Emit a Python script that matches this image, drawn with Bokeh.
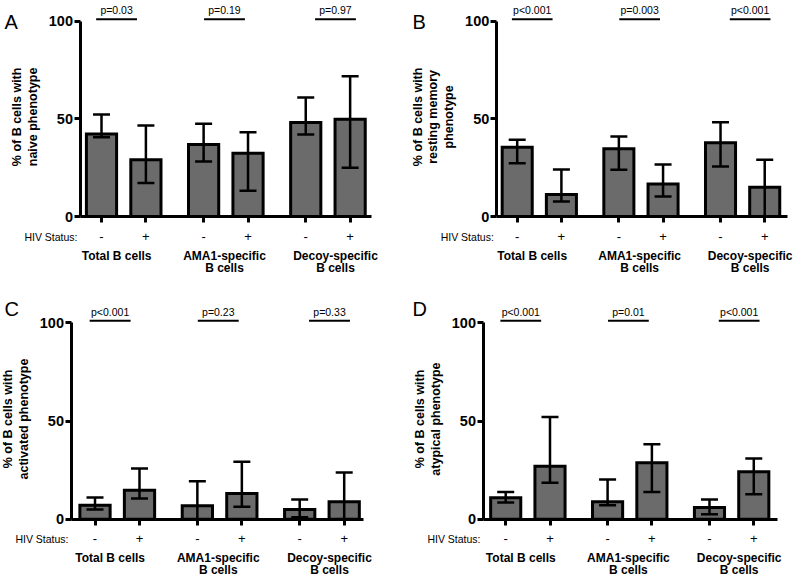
import math
from bokeh.plotting import figure
from bokeh.models import Range1d, FixedTicker, Label
from bokeh.core.properties import value
from bokeh.layouts import column, row
from bokeh.embed import file_html
from bokeh.resources import INLINE

# ---------------- data ----------------
GROUP_LINES = [["Total B cells"], ["AMA1-specific", "B cells"], ["Decoy-specific", "B cells"]]
HIV_STATUS = ["-", "+", "-", "+", "-", "+"]
PANEL_LETTERS = ["A", "B", "C", "D"]
Y_LABELS = [
    ["% of B cells with", "naive phenotype"],
    ["% of B cells with", "resting memory", "phenotype"],
    ["% of B cells with", "activated phenotype"],
    ["% of B cells with", "atypical phenotype"],
]

naive_value = [42.3, 29.0, 36.9, 32.4, 48.1, 49.8]
naive_upper = [52.2, 46.6, 47.5, 43.2, 60.9, 71.8]
naive_lower = [40.6, 17.1, 28.2, 13.2, 42.0, 24.9]
naive_p = ["p=0.03", "p=0.19", "p=0.97"]

resting_value = [35.5, 11.3, 34.7, 16.7, 37.7, 15.0]
resting_upper = [39.3, 24.1, 41.0, 26.6, 48.3, 29.0]
resting_lower = [27.3, 7.7, 23.9, 10.2, 25.6, 0.0]
resting_p = ["p<0.001", "p=0.003", "p<0.001"]

activated_value = [7.1, 14.8, 6.8, 13.1, 4.9, 8.9]
activated_upper = [11.0, 25.8, 19.3, 29.2, 10.0, 23.8]
activated_lower = [5.0, 10.5, 0.0, 6.3, 1.0, 0.0]
activated_p = ["p<0.001", "p=0.23", "p=0.33"]

atypical_value = [10.9, 27.0, 8.9, 28.7, 6.0, 24.1]
atypical_upper = [13.9, 52.1, 20.2, 38.2, 10.0, 30.9]
atypical_lower = [8.5, 18.5, 7.1, 13.9, 2.5, 12.7]
atypical_p = ["p<0.001", "p=0.01", "p<0.001"]

Y_TICKS = [0, 50, 100]

# ---------------- layout / style ----------------
POS = [0, 10, 23, 33, 46, 56]          # bar slots (tenths of a bar step)
GROUP_X = [3.4, 27.7, 52.7]            # centre of group captions / p-value lines
P_HALF = 4.6
BAR_W = 6.8
P_LINE_Y = 101.0
FONT = "Liberation Sans"
BAR_FILL = "#6b6b6b"

# pixel geometry of each panel (figure pixels): y-axis x, x-axis end, y=100 row, y=0 row
LAYOUTS = [
    dict(w=398, h=289, L=79.5, R=370.7, T=20.7, B=216.0, x0=101.0, u=44.4, lx=4, ly=21.5),
    dict(w=397, h=289, L=97.8, R=388.7, T=20.7, B=216.0, x0=118.7, u=44.2, lx=14, ly=21.0),
    dict(w=398, h=288, L=70.5, R=363.3, T=33.3, B=229.7, x0=94.5, u=44.5, lx=4, ly=19.7),
    dict(w=397, h=288, L=84.5, R=378.7, T=33.3, B=229.7, x0=107.2, u=44.3, lx=14, ly=19.7),
]


def make_panel(letter, ylines, vals, upper, lower, pvals, lay):
    L, R, T, Bt = lay["L"], lay["R"], lay["T"], lay["B"]
    w, h, u = lay["w"], lay["h"], lay["u"]

    def xs(px):
        return (px - lay["x0"]) / u * 10.0

    def ys(py):
        return (Bt - py) / (Bt - T) * 100.0

    p = figure(width=w, height=h,
               x_range=Range1d(xs(0), xs(w)), y_range=Range1d(ys(h), ys(0)),
               output_backend="svg", toolbar_location=None, tools="",
               min_border=0, min_border_left=0, min_border_right=0,
               min_border_top=0, min_border_bottom=0)
    p.xgrid.visible = False
    p.ygrid.visible = False
    p.outline_line_color = None
    p.background_fill_color = "white"
    p.border_fill_color = "white"

    # x axis
    xa = p.xaxis[0]
    xa.fixed_location = 0
    xa.bounds = (xs(L), xs(R))
    xa.ticker = FixedTicker(ticks=POS, minor_ticks=[])
    xa.major_label_overrides = {pos: s for pos, s in zip(POS, HIV_STATUS)}
    xa.axis_line_width = 3
    xa.axis_line_color = "black"
    xa.major_tick_line_width = 3
    xa.major_tick_line_color = "black"
    xa.major_tick_in = 0
    xa.major_tick_out = 6
    xa.minor_tick_line_color = None
    xa.major_label_text_font = FONT
    xa.major_label_text_font_size = "13px"
    xa.major_label_text_color = "black"
    xa.major_label_standoff = 9

    # y axis
    ya = p.yaxis[0]
    ya.fixed_location = xs(L)
    ya.ticker = FixedTicker(ticks=Y_TICKS, minor_ticks=[])
    ya.bounds = (0, 100)
    ya.axis_line_width = 3
    ya.axis_line_color = "black"
    ya.major_tick_line_width = 3
    ya.major_tick_line_color = "black"
    ya.major_tick_in = 0
    ya.major_tick_out = 6
    ya.minor_tick_line_color = None
    ya.major_label_text_font = FONT
    ya.major_label_text_font_style = "bold"
    ya.major_label_text_font_size = "14.5px"
    ya.major_label_text_color = "black"
    ya.major_label_standoff = 1

    # bars
    p.vbar(x=POS, top=vals, bottom=0, width=BAR_W, fill_color=BAR_FILL,
           line_color="black", line_width=3, line_join="miter")

    # error bars
    cap = 8.5 / u * 10.0
    p.segment(x0=POS, y0=lower, x1=POS, y1=upper, line_color="black", line_width=2.5)
    p.segment(x0=[x - cap for x in POS], y0=upper, x1=[x + cap for x in POS], y1=upper,
              line_color="black", line_width=2.5)
    p.segment(x0=[x - cap for x in POS], y0=lower, x1=[x + cap for x in POS], y1=lower,
              line_color="black", line_width=2.5)

    # p-value lines and texts
    p.segment(x0=[g - P_HALF for g in GROUP_X], y0=[P_LINE_Y] * 3,
              x1=[g + P_HALF for g in GROUP_X], y1=[P_LINE_Y] * 3,
              line_color="black", line_width=2)
    line_px = Bt - P_LINE_Y / 100.0 * (Bt - T)
    for g, txt in zip(GROUP_X, pvals):
        p.add_layout(Label(x=g, y=ys(line_px - 9), text=txt, text_font=FONT,
                           text_font_size="10.5px", text_align="center",
                           text_baseline="alphabetic", text_color="black"))

    # HIV status caption
    p.add_layout(Label(x=xs(L - 2.5), y=ys(Bt + 20), text="HIV Status:", text_font=FONT,
                       text_font_size="10.5px", text_align="right",
                       text_baseline="middle", text_color="black"))

    # group captions
    for g, lines in zip(GROUP_X, GROUP_LINES):
        for i, ln in enumerate(lines):
            p.add_layout(Label(x=g, y=ys(Bt + 39 + 12 * i), text=ln, text_font=FONT,
                               text_font_size="12px", text_font_style="bold",
                               text_align="center", text_baseline="middle",
                               text_color="black"))

    # y axis label (rotated lines, text glyphs)
    n = len(ylines)
    p.text(x=[xs(L - 47.5 - (n - 1 - i) * 15.5) for i in range(n)], y=[51] * n,
           text=ylines, angle=math.pi / 2, text_font=value(FONT),
           text_font_size="12.5px", text_font_style="bold",
           text_align="center", text_baseline="middle", text_color="black")

    # panel letter
    p.add_layout(Label(x=xs(lay["lx"]), y=ys(lay["ly"]), text=letter, text_font=FONT,
                       text_font_size="20px", text_align="left",
                       text_baseline="alphabetic", text_color="black"))
    return p


pA = make_panel(PANEL_LETTERS[0], Y_LABELS[0], naive_value, naive_upper, naive_lower, naive_p, LAYOUTS[0])
pB = make_panel(PANEL_LETTERS[1], Y_LABELS[1], resting_value, resting_upper, resting_lower, resting_p, LAYOUTS[1])
pC = make_panel(PANEL_LETTERS[2], Y_LABELS[2], activated_value, activated_upper, activated_lower, activated_p, LAYOUTS[2])
pD = make_panel(PANEL_LETTERS[3], Y_LABELS[3], atypical_value, atypical_upper, atypical_lower, atypical_p, LAYOUTS[3])

layout = column(row(pA, pB), row(pC, pD))
open("out.html", "w").write(file_html(layout, INLINE))
